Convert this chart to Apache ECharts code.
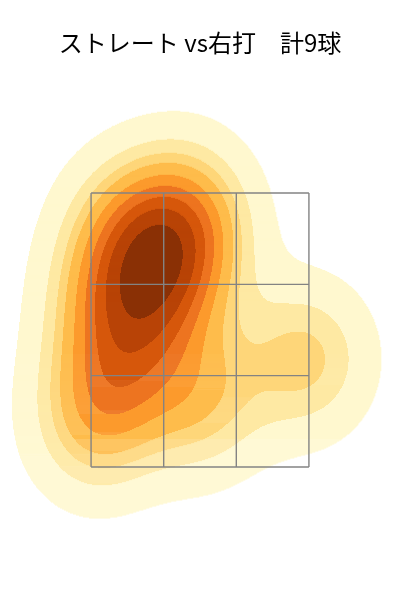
<!DOCTYPE html>
<html><head><meta charset="utf-8">
<script src="https://cdn.jsdelivr.net/npm/echarts@6/dist/echarts.min.js"></script>
<style>html,body{margin:0;padding:0;background:#fff}#c{width:400px;height:600px}</style>
</head><body><div id="c"></div>
<script>
// ---- data ----
const chartTitle = 'ストレート vs右打　計9球';
// pitch locations (plate x / plate z, ft)
const pitchX = [-0.084, -0.468, -0.156, -0.572, -0.260, -0.559, -0.682, 0.000, 0.682];
const pitchZ = [3.361, 3.230, 3.069, 2.734, 2.719, 2.223, 1.807, 1.982, 2.288];
const zoneX = [-0.708, -0.236, 0.236, 0.708];
const zoneZ = [1.5, 2.1667, 2.8333, 3.5];
const isoProps = [0.05, 0.1556, 0.2611, 0.3667, 0.4722, 0.5778, 0.6833, 0.7889, 0.8944, 1.0];
const bandColors = ['#fff8cf', '#fee9a3', '#fed679', '#febc4b', '#fc9a2c', '#ed7420', '#d6570b', '#b84306', '#8a3005'];

const X_MIN = -1.3, X_MAX = 1.3, Z_MIN = 0.6, Z_MAX = 4.4;
const COLS = 400, ROWS = 520;

// ---- gaussian KDE (scipy / seaborn style, Scott bandwidth) ----
function makeKde(xs, zs) {
  const n = xs.length;
  let mx = 0, mz = 0;
  for (let i = 0; i < n; i++) { mx += xs[i]; mz += zs[i]; }
  mx /= n; mz /= n;
  let sxx = 0, szz = 0, sxz = 0;
  for (let i = 0; i < n; i++) {
    const dx = xs[i] - mx, dz = zs[i] - mz;
    sxx += dx * dx; szz += dz * dz; sxz += dx * dz;
  }
  sxx /= (n - 1); szz /= (n - 1); sxz /= (n - 1);
  const f2 = Math.pow(n, -2 / 6);
  const a = sxx * f2, b = sxz * f2, d = szz * f2;
  const det = a * d - b * b;
  const ia = d / det, ib = -b / det, id = a / det;
  const norm = 1 / (2 * Math.PI * Math.sqrt(det) * n);
  return {
    bwx: Math.sqrt(a), bwz: Math.sqrt(d),
    f: function (x, z) {
      let s = 0;
      for (let i = 0; i < n; i++) {
        const dx = x - xs[i], dz = z - zs[i];
        s += Math.exp(-0.5 * (ia * dx * dx + 2 * ib * dx * dz + id * dz * dz));
      }
      return s * norm;
    }
  };
}
const kde = makeKde(pitchX, pitchZ);

function computeLevels() {
  const g = 200;
  const x0 = Math.min(...pitchX) - 3 * kde.bwx, x1 = Math.max(...pitchX) + 3 * kde.bwx;
  const z0 = Math.min(...pitchZ) - 3 * kde.bwz, z1 = Math.max(...pitchZ) + 3 * kde.bwz;
  const vals = [];
  for (let i = 0; i < g; i++) for (let j = 0; j < g; j++) {
    vals.push(kde.f(x0 + (x1 - x0) * i / (g - 1), z0 + (z1 - z0) * j / (g - 1)));
  }
  const total = vals.reduce((s, v) => s + v, 0);
  vals.sort((p, q) => q - p);
  const cum = []; let c = 0;
  for (const v of vals) { c += v; cum.push(c / total); }
  return isoProps.map(q => {
    const t = 1 - q;
    let lo = 0, hi = cum.length;
    while (lo < hi) { const m = (lo + hi) >> 1; if (cum[m] < t) lo = m + 1; else hi = m; }
    return vals[Math.min(lo, vals.length - 1)];
  });
}
const levels = computeLevels();

function bandOf(v) {
  if (v < levels[0]) return -1;
  let b = 0;
  for (let i = 1; i < levels.length - 1; i++) if (v > levels[i]) b = i;
  return b;
}

const dxC = (X_MAX - X_MIN) / COLS, dzR = (Z_MAX - Z_MIN) / ROWS;
const runs = [];
for (let r = 0; r < ROWS; r++) {
  const z = Z_MAX - (r + 0.5) * dzR;
  let cur = -2, start = 0;
  for (let cidx = 0; cidx <= COLS; cidx++) {
    const b = cidx < COLS ? bandOf(kde.f(X_MIN + (cidx + 0.5) * dxC, z)) : -2;
    if (b !== cur) {
      if (cur >= 0) runs.push([X_MIN + start * dxC, X_MIN + cidx * dxC, z, cur]);
      cur = b; start = cidx;
    }
  }
}

const zoneSegs = [];
zoneX.forEach(x => zoneSegs.push([x, zoneZ[0], x, zoneZ[zoneZ.length - 1]]));
zoneZ.forEach(z => zoneSegs.push([zoneX[0], z, zoneX[zoneX.length - 1], z]));

const chart = echarts.init(document.getElementById('c'), null, { renderer: 'canvas' });
chart.setOption({
  animation: false,
  backgroundColor: '#ffffff',
  title: {
    text: chartTitle, left: 'center', top: 26,
    textStyle: { fontFamily: 'Noto Sans CJK JP', fontSize: 24, fontWeight: 'normal', color: '#000' }
  },
  grid: { left: 0, right: 0, top: 69.7, bottom: 9.7 },
  xAxis: { type: 'value', min: X_MIN, max: X_MAX, show: false },
  yAxis: { type: 'value', min: Z_MIN, max: Z_MAX, show: false },
  series: [
    {
      type: 'custom', coordinateSystem: 'cartesian2d', data: runs, silent: true,
      encode: { x: [0, 1], y: 2 },
      renderItem: function (params, api) {
        const p0 = api.coord([api.value(0), api.value(2) + dzR / 2]);
        const p1 = api.coord([api.value(1), api.value(2) - dzR / 2]);
        return {
          type: 'rect',
          shape: { x: p0[0], y: p0[1], width: p1[0] - p0[0] + 0.3, height: p1[1] - p0[1] + 0.3 },
          style: { fill: bandColors[api.value(3)] }
        };
      }
    },
    {
      type: 'custom', coordinateSystem: 'cartesian2d', data: zoneSegs, silent: true,
      encode: { x: [0, 2], y: [1, 3] },
      renderItem: function (params, api) {
        const p0 = api.coord([api.value(0), api.value(1)]);
        const p1 = api.coord([api.value(2), api.value(3)]);
        return {
          type: 'line',
          shape: { x1: p0[0], y1: p0[1], x2: p1[0], y2: p1[1] },
          style: { stroke: '#838383', lineWidth: 1.4 }
        };
      }
    }
  ]
});
</script>
</body></html>
